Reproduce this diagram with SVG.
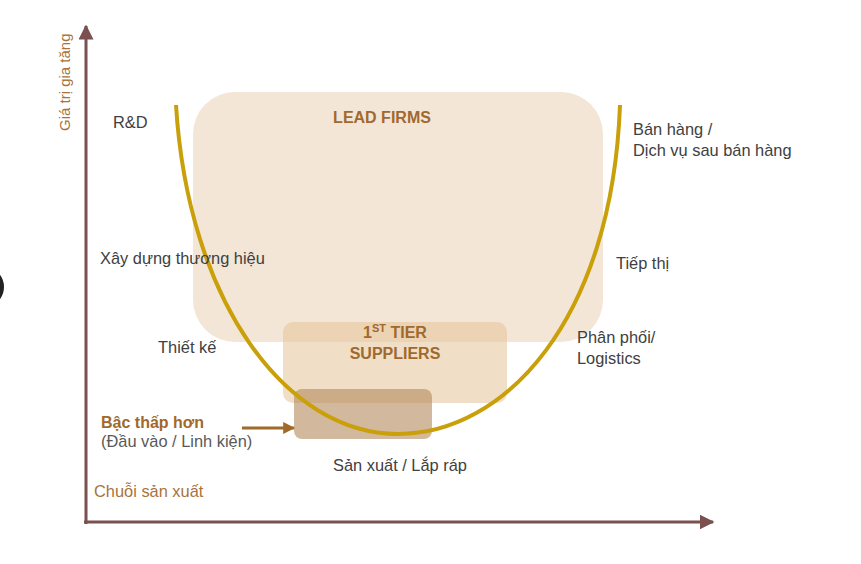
<svg xmlns="http://www.w3.org/2000/svg" width="861" height="564" viewBox="0 0 861 564">
<defs>
<style>
.t{font-family:"Liberation Sans",Arial,sans-serif;font-size:16.4px;fill:#404040}
.b{font-family:"Liberation Sans",Arial,sans-serif;font-size:16px;font-weight:bold;fill:#a0692e}
.o{font-family:"Liberation Sans",Arial,sans-serif;font-size:16.4px;fill:#a8733a}
.ax{stroke:#7b5050;stroke-width:3;fill:none}
</style>
<marker id="ah" viewBox="0 0 10 10" refX="9" refY="5" markerWidth="5" markerHeight="5" orient="auto" markerUnits="strokeWidth"><path d="M0,0L10,5L0,10z" fill="#7b5050"/></marker>
<marker id="ah2" viewBox="0 0 10 10" refX="9" refY="5" markerWidth="4" markerHeight="4" orient="auto" markerUnits="strokeWidth"><path d="M0,0L10,5L0,10z" fill="#a06a2a"/></marker>
</defs>
<rect width="861" height="564" fill="#fff"/>
<ellipse cx="-18" cy="287" rx="20" ry="19" fill="none" stroke="#222" stroke-width="4"/>
<g id="boxes">
<g id="lead-firms"><rect x="193" y="92" width="410" height="250" rx="42" fill="#f3e6d6"/>
<text class="b" x="382" y="123" text-anchor="middle">LEAD FIRMS</text></g>
<g id="tier1"><rect x="283" y="322" width="224" height="81" rx="10" fill="#e3c298" fill-opacity="0.55"/>
<text class="b" x="395" y="338" text-anchor="middle">1<tspan font-size="11" dy="-6">ST</tspan><tspan dy="6"> TIER</tspan></text>
<text class="b" x="395" y="359" text-anchor="middle">SUPPLIERS</text></g>
<g id="lower"><rect x="294" y="389" width="138" height="50" rx="8" fill="#b48b5c" fill-opacity="0.6"/></g>
</g>
<g id="curve"><path d="M176,105 C188,300 285,434 398,434 C505,434 612,320 620,105" fill="none" stroke="#c9a00a" stroke-width="4"/></g>
<g id="connectors">
<line class="ax" x1="86" y1="524" x2="86" y2="26" marker-end="url(#ah)"/>
<line class="ax" x1="84" y1="522" x2="713" y2="522" marker-end="url(#ah)"/>
<line x1="242" y1="428" x2="294" y2="428" stroke="#a06a2a" stroke-width="3" marker-end="url(#ah2)"/>
</g>
<g id="labels">
<text class="o" transform="translate(70,131) rotate(-90)" style="font-size:15px">Giá trị gia tăng</text>
<text class="t" x="113" y="128">R&amp;D</text>
<text class="t" x="633" y="135">Bán hàng /</text>
<text class="t" x="633" y="156">Dịch vụ sau bán hàng</text>
<text class="t" x="100" y="264">Xây dựng thương hiệu</text>
<text class="t" x="616" y="269">Tiếp thị</text>
<text class="t" x="158" y="353">Thiết kế</text>
<text class="t" x="577" y="343">Phân phối/</text>
<text class="t" x="577" y="364">Logistics</text>
<text class="b" x="101" y="428">Bậc thấp hơn</text>
<text class="t" x="101" y="447" style="fill:#595959">(Đầu vào / Linh kiện)</text>
<text class="t" x="333" y="471">Sản xuất / Lắp ráp</text>
<text class="o" x="94" y="497">Chuỗi sản xuất</text>
</g>
</svg>
